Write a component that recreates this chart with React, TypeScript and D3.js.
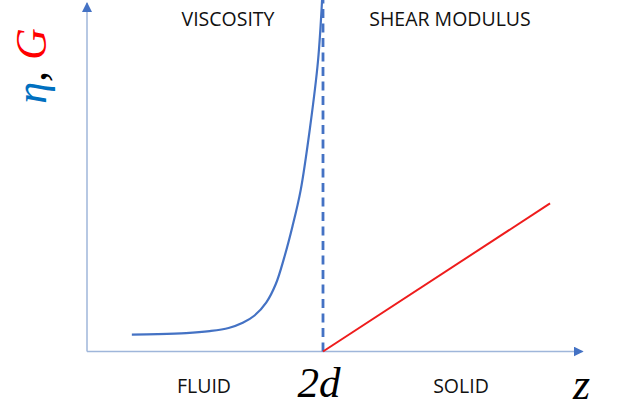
import React, { useEffect, useRef } from "react";
import * as d3 from "d3";

const W = 617;
const H = 407;

// z in units of d (2d = 1)
const transitionZ = 1;
const zMax = 2.1;
const vMax = 10;

const viscosityZ = [0.19, 0.3, 0.42, 0.52, 0.6, 0.66, 0.71, 0.76, 0.8, 0.835, 0.87, 0.905, 0.945, 0.979, 0.998];
const viscosityV = [0.49, 0.5, 0.53, 0.59, 0.68, 0.83, 1.04, 1.42, 1.95, 2.7, 3.6, 4.65, 6.47, 8.41, 10.4];

const modulusZ = [1.0, 1.962];
const modulusV = [0, 4.28];

const topLabels = ["VISCOSITY", "SHEAR MODULUS"];
const bottomLabels = ["FLUID", "SOLID"];

export default function App() {
  const ref = useRef<SVGSVGElement | null>(null);

  useEffect(() => {
    const svg = d3.select(ref.current);
    svg.selectAll("*").remove();

    const x = d3.scaleLinear().domain([0, zMax]).range([87, 582.6]);
    const y = d3.scaleLinear().domain([0, vMax]).range([351.5, 5.5]);

    const defs = svg.append("defs");
    defs
      .append("marker")
      .attr("id", "arr")
      .attr("viewBox", "0 0 10 10")
      .attr("refX", 9)
      .attr("refY", 5)
      .attr("markerWidth", 10)
      .attr("markerHeight", 10)
      .attr("markerUnits", "userSpaceOnUse")
      .attr("orient", "auto")
      .append("path")
      .attr("d", "M0,0L10,5L0,10Z")
      .attr("fill", "#4472C4");

    svg.append("rect").attr("width", W).attr("height", H).attr("fill", "#ffffff");

    const axisColor = "#9FB6DA";
    svg
      .append("line")
      .attr("x1", x(0))
      .attr("x2", x(0))
      .attr("y1", y(0))
      .attr("y2", 3)
      .attr("stroke", axisColor)
      .attr("stroke-width", 1.5)
      .attr("marker-end", "url(#arr)");
    svg
      .append("line")
      .attr("x1", x(0))
      .attr("x2", x(zMax))
      .attr("y1", y(0))
      .attr("y2", y(0))
      .attr("stroke", axisColor)
      .attr("stroke-width", 1.5)
      .attr("marker-end", "url(#arr)");

    svg
      .append("line")
      .attr("x1", x(transitionZ))
      .attr("x2", x(transitionZ))
      .attr("y1", y(0))
      .attr("y2", 0)
      .attr("stroke", "#4472C4")
      .attr("stroke-width", 2.8)
      .attr("stroke-dasharray", "9,5.5");

    const visc = viscosityZ.map((z, i) => [z, viscosityV[i]] as [number, number]);
    const line = d3
      .line<[number, number]>()
      .x((d) => x(d[0]))
      .y((d) => y(d[1]))
      .curve(d3.curveCatmullRom.alpha(0.5));
    svg
      .append("path")
      .attr("d", line(visc))
      .attr("fill", "none")
      .attr("stroke", "#4472C4")
      .attr("stroke-width", 2.2);

    const mod = modulusZ.map((z, i) => [z, modulusV[i]] as [number, number]);
    svg
      .append("path")
      .attr("d", d3.line<[number, number]>().x((d) => x(d[0])).y((d) => y(d[1]))(mod))
      .attr("fill", "none")
      .attr("stroke", "#EE1C1C")
      .attr("stroke-width", 2);

    const sans = "'Open Sans', 'Liberation Sans', sans-serif";
    const topX = [228, 450];
    topLabels.forEach((t, i) => {
      svg
        .append("text")
        .attr("x", topX[i])
        .attr("y", 26)
        .attr("text-anchor", "middle")
        .attr("font-family", sans)
        .attr("font-size", 19.5)
        .attr("fill", "#111")
        .text(t);
    });
    const botX = [204, 461];
    bottomLabels.forEach((t, i) => {
      svg
        .append("text")
        .attr("x", botX[i])
        .attr("y", 393)
        .attr("text-anchor", "middle")
        .attr("font-family", sans)
        .attr("font-size", 19.5)
        .attr("fill", "#111")
        .text(t);
    });

    const serif = "'Liberation Serif', 'DejaVu Serif', serif";
    svg
      .append("text")
      .attr("x", 319)
      .attr("y", 397)
      .attr("text-anchor", "middle")
      .attr("font-family", serif)
      .attr("font-style", "italic")
      .attr("font-size", 43)
      .attr("fill", "#000")
      .text("2d");
    svg
      .append("text")
      .attr("x", 573)
      .attr("y", 399)
      .attr("text-anchor", "start")
      .attr("font-family", serif)
      .attr("font-style", "italic")
      .attr("font-size", 44)
      .attr("fill", "#000")
      .text("z");

    const yl = svg
      .append("text")
      .attr("transform", "translate(46,66) rotate(-90)")
      .attr("text-anchor", "middle")
      .attr("font-family", serif)
      .attr("font-style", "italic")
      .attr("font-size", 44);
    yl.append("tspan").attr("fill", "#0070C0").text("η");
    yl.append("tspan").attr("fill", "#000").text(", ");
    yl.append("tspan").attr("fill", "#FF0000").text("G");
  }, []);

  return (
    <svg
      ref={ref}
      width={W}
      height={H}
      style={{ position: "absolute", left: 0, top: 0, display: "block" }}
    />
  );
}
